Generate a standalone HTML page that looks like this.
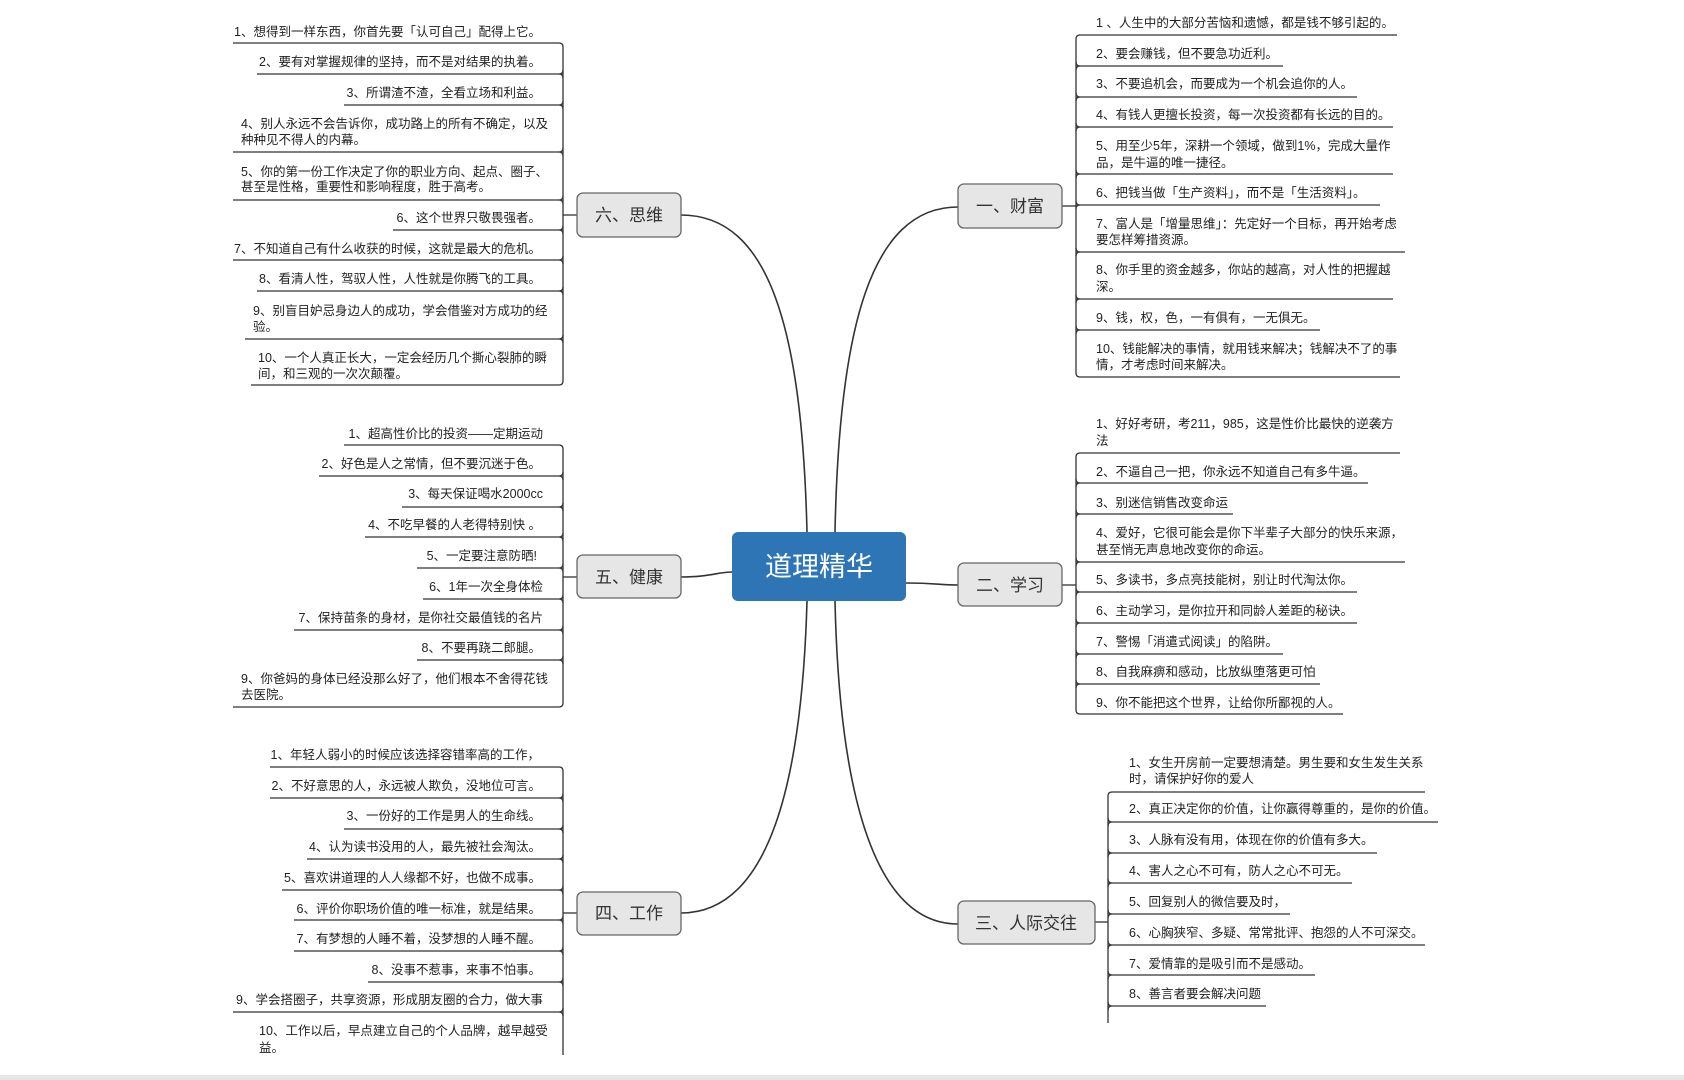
<!DOCTYPE html>
<html><head><meta charset="utf-8"><style>
html,body{margin:0;padding:0;background:#fff;width:1684px;height:1080px;overflow:hidden}
svg{display:block}
text{font-family:"Liberation Sans","Noto Sans CJK SC",sans-serif;fill:#222;font-size:12.5px}
.n{font-size:17px;fill:#333}
.l{stroke:#333;stroke-width:1.3;fill:none}
.c{stroke:#333;stroke-width:1.6;fill:none}
.box{fill:#e6e6e6;stroke:#666;stroke-width:1.3}
</style></head><body>
<svg width="1684" height="1080" viewBox="0 0 1684 1080" xmlns="http://www.w3.org/2000/svg">
<rect x="0" y="1075" width="1684" height="5" fill="#e6e6e6"/>
<path class="c" d="M681,215 C770,215 802,330 807,532"/>
<path class="c" d="M681,577 C710,577 718,572 732,572"/>
<path class="c" d="M681,913 C770,913 802,780 807,601"/>
<path class="c" d="M958,207 C870,207 839,330 835,532"/>
<path class="c" d="M906,583 C935,583 940,585 958,585"/>
<path class="c" d="M958,924 C870,924 839,780 835,601"/>
<rect x="732" y="532" width="174" height="69" rx="6" fill="#2e75b6"/>
<text x="819" y="576" text-anchor="middle" style="font-size:27px;fill:#fff">道理精华</text>

<g>
<path class="l" d="M563,47 V381"/>
<path class="l" d="M233,43 H559 Q563,43 563,47"/>
<path class="l" d="M257,74 H559 Q563,74 563,70 M559,74 Q563,74 563,78"/>
<path class="l" d="M344,105 H559 Q563,105 563,101 M559,105 Q563,105 563,109"/>
<path class="l" d="M233,152 H559 Q563,152 563,148 M559,152 Q563,152 563,156"/>
<path class="l" d="M233,200 H559 Q563,200 563,196 M559,200 Q563,200 563,204"/>
<path class="l" d="M393,230 H559 Q563,230 563,226 M559,230 Q563,230 563,234"/>
<path class="l" d="M233,260 H559 Q563,260 563,256 M559,260 Q563,260 563,264"/>
<path class="l" d="M257,291 H559 Q563,291 563,287 M559,291 Q563,291 563,295"/>
<path class="l" d="M245,339 H559 Q563,339 563,335 M559,339 Q563,339 563,343"/>
<path class="l" d="M251,385 H559 Q563,385 563,381"/>
<path class="l" d="M563,215 H577"/>
<rect class="box" x="577" y="193" width="104" height="44" rx="6"/>
<text class="n" x="629" y="221" text-anchor="middle">六、思维</text>
<text x="541" y="36" text-anchor="end">1、想得到一样东西，你首先要「认可自己」配得上它。</text>
<text x="541" y="66" text-anchor="end">2、要有对掌握规律的坚持，而不是对结果的执着。</text>
<text x="541" y="97" text-anchor="end">3、所谓渣不渣，全看立场和利益。</text>
<text x="241" y="128">4、别人永远不会告诉你，成功路上的所有不确定，以及</text>
<text x="241" y="144">种种见不得人的内幕。</text>
<text x="241" y="176">5、你的第一份工作决定了你的职业方向、起点、圈子、</text>
<text x="241" y="191">甚至是性格，重要性和影响程度，胜于高考。</text>
<text x="541" y="222" text-anchor="end">6、这个世界只敬畏强者。</text>
<text x="541" y="253" text-anchor="end">7、不知道自己有什么收获的时候，这就是最大的危机。</text>
<text x="541" y="283" text-anchor="end">8、看清人性，驾驭人性，人性就是你腾飞的工具。</text>
<text x="253" y="315">9、别盲目妒忌身边人的成功，学会借鉴对方成功的经</text>
<text x="253" y="331">验。</text>
<text x="258" y="362">10、一个人真正长大，一定会经历几个撕心裂肺的瞬</text>
<text x="258" y="378">间，和三观的一次次颠覆。</text>
</g>

<g>
<path class="l" d="M563,449 V703"/>
<path class="l" d="M344,445 H559 Q563,445 563,449"/>
<path class="l" d="M319,476 H559 Q563,476 563,472 M559,476 Q563,476 563,480"/>
<path class="l" d="M402,507 H559 Q563,507 563,503 M559,507 Q563,507 563,511"/>
<path class="l" d="M365,537 H559 Q563,537 563,533 M559,537 Q563,537 563,541"/>
<path class="l" d="M417,568 H559 Q563,568 563,564 M559,568 Q563,568 563,572"/>
<path class="l" d="M423,599 H559 Q563,599 563,595 M559,599 Q563,599 563,603"/>
<path class="l" d="M294,630 H559 Q563,630 563,626 M559,630 Q563,630 563,634"/>
<path class="l" d="M417,660 H559 Q563,660 563,656 M559,660 Q563,660 563,664"/>
<path class="l" d="M233,707 H559 Q563,707 563,703"/>
<path class="l" d="M563,577 H577"/>
<rect class="box" x="577" y="555" width="104" height="43" rx="6"/>
<text class="n" x="629" y="583" text-anchor="middle">五、健康</text>
<text x="543" y="438" text-anchor="end">1、超高性价比的投资——定期运动</text>
<text x="541" y="468" text-anchor="end">2、好色是人之常情，但不要沉迷于色。</text>
<text x="543" y="498" text-anchor="end">3、每天保证喝水2000cc</text>
<text x="541" y="529" text-anchor="end">4、不吃早餐的人老得特别快 。</text>
<text x="537" y="560" text-anchor="end">5、一定要注意防晒!</text>
<text x="543" y="591" text-anchor="end">6、1年一次全身体检</text>
<text x="543" y="622" text-anchor="end">7、保持苗条的身材，是你社交最值钱的名片</text>
<text x="541" y="652" text-anchor="end">8、不要再跷二郎腿。</text>
<text x="241" y="683">9、你爸妈的身体已经没那么好了，他们根本不舍得花钱</text>
<text x="241" y="699">去医院。</text>
</g>

<g>
<path class="l" d="M563,771 V1055"/>
<path class="l" d="M270,767 H559 Q563,767 563,771"/>
<path class="l" d="M270,798 H559 Q563,798 563,794 M559,798 Q563,798 563,802"/>
<path class="l" d="M344,829 H559 Q563,829 563,825 M559,829 Q563,829 563,833"/>
<path class="l" d="M307,859 H559 Q563,859 563,855 M559,859 Q563,859 563,863"/>
<path class="l" d="M282,890 H559 Q563,890 563,886 M559,890 Q563,890 563,894"/>
<path class="l" d="M294,920 H559 Q563,920 563,916 M559,920 Q563,920 563,924"/>
<path class="l" d="M294,951 H559 Q563,951 563,947 M559,951 Q563,951 563,955"/>
<path class="l" d="M368,982 H559 Q563,982 563,978 M559,982 Q563,982 563,986"/>
<path class="l" d="M233,1012 H559 Q563,1012 563,1008 M559,1012 Q563,1012 563,1016"/>
<path class="l" d="M563,913 H577"/>
<rect class="box" x="577" y="892" width="104" height="43" rx="6"/>
<text class="n" x="629" y="919" text-anchor="middle">四、工作</text>
<text x="540" y="759" text-anchor="end">1、年轻人弱小的时候应该选择容错率高的工作，</text>
<text x="541" y="790" text-anchor="end">2、不好意思的人，永远被人欺负，没地位可言。</text>
<text x="541" y="820" text-anchor="end">3、一份好的工作是男人的生命线。</text>
<text x="541" y="851" text-anchor="end">4、认为读书没用的人，最先被社会淘汰。</text>
<text x="541" y="882" text-anchor="end">5、喜欢讲道理的人人缘都不好，也做不成事。</text>
<text x="541" y="913" text-anchor="end">6、评价你职场价值的唯一标准，就是结果。</text>
<text x="541" y="943" text-anchor="end">7、有梦想的人睡不着，没梦想的人睡不醒。</text>
<text x="541" y="974" text-anchor="end">8、没事不惹事，来事不怕事。</text>
<text x="543" y="1004" text-anchor="end">9、学会搭圈子，共享资源，形成朋友圈的合力，做大事</text>
<text x="259" y="1035">10、工作以后，早点建立自己的个人品牌，越早越受</text>
<text x="259" y="1052">益。</text>
</g>

<g>
<path class="l" d="M1076,39 V373"/>
<path class="l" d="M1076,39 Q1076,35 1080,35 H1397"/>
<path class="l" d="M1076,62 Q1076,66 1080,66 H1283 M1076,70 Q1076,66 1080,66"/>
<path class="l" d="M1076,93 Q1076,97 1080,97 H1357 M1076,101 Q1076,97 1080,97"/>
<path class="l" d="M1076,123 Q1076,127 1080,127 H1393 M1076,131 Q1076,127 1080,127"/>
<path class="l" d="M1076,170 Q1076,174 1080,174 H1393 M1076,178 Q1076,174 1080,174"/>
<path class="l" d="M1076,201 Q1076,205 1080,205 H1380 M1076,209 Q1076,205 1080,205"/>
<path class="l" d="M1076,248 Q1076,252 1080,252 H1405 M1076,256 Q1076,252 1080,252"/>
<path class="l" d="M1076,295 Q1076,299 1080,299 H1393 M1076,303 Q1076,299 1080,299"/>
<path class="l" d="M1076,326 Q1076,330 1080,330 H1320 M1076,334 Q1076,330 1080,330"/>
<path class="l" d="M1076,373 Q1076,377 1080,377 H1400"/>
<path class="l" d="M1062,206 H1076"/>
<rect class="box" x="958" y="184" width="104" height="44" rx="6"/>
<text class="n" x="1010" y="212" text-anchor="middle">一、财富</text>
<text x="1096" y="27">1 、人生中的大部分苦恼和遗憾，都是钱不够引起的。</text>
<text x="1096" y="58">2、要会赚钱，但不要急功近利。</text>
<text x="1096" y="88">3、不要追机会，而要成为一个机会追你的人。</text>
<text x="1096" y="119">4、有钱人更擅长投资，每一次投资都有长远的目的。</text>
<text x="1096" y="150">5、用至少5年，深耕一个领域，做到1%，完成大量作</text>
<text x="1096" y="167">品，是牛逼的唯一捷径。</text>
<text x="1096" y="197">6、把钱当做「生产资料」，而不是「生活资料」。</text>
<text x="1096" y="228">7、富人是「增量思维」：先定好一个目标，再开始考虑</text>
<text x="1096" y="244">要怎样筹措资源。</text>
<text x="1096" y="274">8、你手里的资金越多，你站的越高，对人性的把握越</text>
<text x="1096" y="291">深。</text>
<text x="1096" y="322">9、钱，权，色，一有俱有，一无俱无。</text>
<text x="1096" y="353">10、钱能解决的事情，就用钱来解决；钱解决不了的事</text>
<text x="1096" y="369">情，才考虑时间来解决。</text>
</g>

<g>
<path class="l" d="M1076,457 V710"/>
<path class="l" d="M1076,457 Q1076,453 1080,453 H1400"/>
<path class="l" d="M1076,479 Q1076,483 1080,483 H1368 M1076,487 Q1076,483 1080,483"/>
<path class="l" d="M1076,510 Q1076,514 1080,514 H1233 M1076,518 Q1076,514 1080,514"/>
<path class="l" d="M1076,558 Q1076,562 1080,562 H1405 M1076,566 Q1076,562 1080,562"/>
<path class="l" d="M1076,588 Q1076,592 1080,592 H1357 M1076,596 Q1076,592 1080,592"/>
<path class="l" d="M1076,619 Q1076,623 1080,623 H1357 M1076,627 Q1076,623 1080,623"/>
<path class="l" d="M1076,650 Q1076,654 1080,654 H1283 M1076,658 Q1076,654 1080,654"/>
<path class="l" d="M1076,680 Q1076,684 1080,684 H1320 M1076,688 Q1076,684 1080,684"/>
<path class="l" d="M1076,710 Q1076,714 1080,714 H1343"/>
<path class="l" d="M1062,585 H1076"/>
<rect class="box" x="958" y="563" width="104" height="43" rx="6"/>
<text class="n" x="1010" y="591" text-anchor="middle">二、学习</text>
<text x="1096" y="428">1、好好考研，考211，985，这是性价比最快的逆袭方</text>
<text x="1096" y="445">法</text>
<text x="1096" y="476">2、不逼自己一把，你永远不知道自己有多牛逼。</text>
<text x="1096" y="507">3、别迷信销售改变命运</text>
<text x="1096" y="537">4、爱好，它很可能会是你下半辈子大部分的快乐来源，</text>
<text x="1096" y="554">甚至悄无声息地改变你的命运。</text>
<text x="1096" y="584">5、多读书，多点亮技能树，别让时代淘汰你。</text>
<text x="1096" y="615">6、主动学习，是你拉开和同龄人差距的秘诀。</text>
<text x="1096" y="646">7、警惕「消遣式阅读」的陷阱。</text>
<text x="1096" y="676">8、自我麻痹和感动，比放纵堕落更可怕</text>
<text x="1096" y="707">9、你不能把这个世界，让给你所鄙视的人。</text>
</g>

<g>
<path class="l" d="M1108,796 V1023"/>
<path class="l" d="M1108,796 Q1108,792 1112,792 H1425"/>
<path class="l" d="M1108,818 Q1108,822 1112,822 H1438 M1108,826 Q1108,822 1112,822"/>
<path class="l" d="M1108,849 Q1108,853 1112,853 H1377 M1108,857 Q1108,853 1112,853"/>
<path class="l" d="M1108,879 Q1108,883 1112,883 H1352 M1108,887 Q1108,883 1112,883"/>
<path class="l" d="M1108,910 Q1108,914 1112,914 H1290 M1108,918 Q1108,914 1112,914"/>
<path class="l" d="M1108,941 Q1108,945 1112,945 H1425 M1108,949 Q1108,945 1112,945"/>
<path class="l" d="M1108,971 Q1108,975 1112,975 H1315 M1108,979 Q1108,975 1112,975"/>
<path class="l" d="M1108,1002 Q1108,1006 1112,1006 H1266 M1108,1010 Q1108,1006 1112,1006"/>
<path class="l" d="M1095,922 H1108"/>
<rect class="box" x="958" y="901" width="137" height="43" rx="6"/>
<text class="n" x="1026" y="929" text-anchor="middle">三、人际交往</text>
<text x="1129" y="767">1、女生开房前一定要想清楚。男生要和女生发生关系</text>
<text x="1129" y="783">时，请保护好你的爱人</text>
<text x="1129" y="813">2、真正决定你的价值，让你赢得尊重的，是你的价值。</text>
<text x="1129" y="844">3、人脉有没有用，体现在你的价值有多大。</text>
<text x="1129" y="875">4、害人之心不可有，防人之心不可无。</text>
<text x="1129" y="906">5、回复别人的微信要及时，</text>
<text x="1129" y="937">6、心胸狭窄、多疑、常常批评、抱怨的人不可深交。</text>
<text x="1129" y="968">7、爱情靠的是吸引而不是感动。</text>
<text x="1129" y="998">8、善言者要会解决问题</text>
</g>
</svg>
</body></html>
